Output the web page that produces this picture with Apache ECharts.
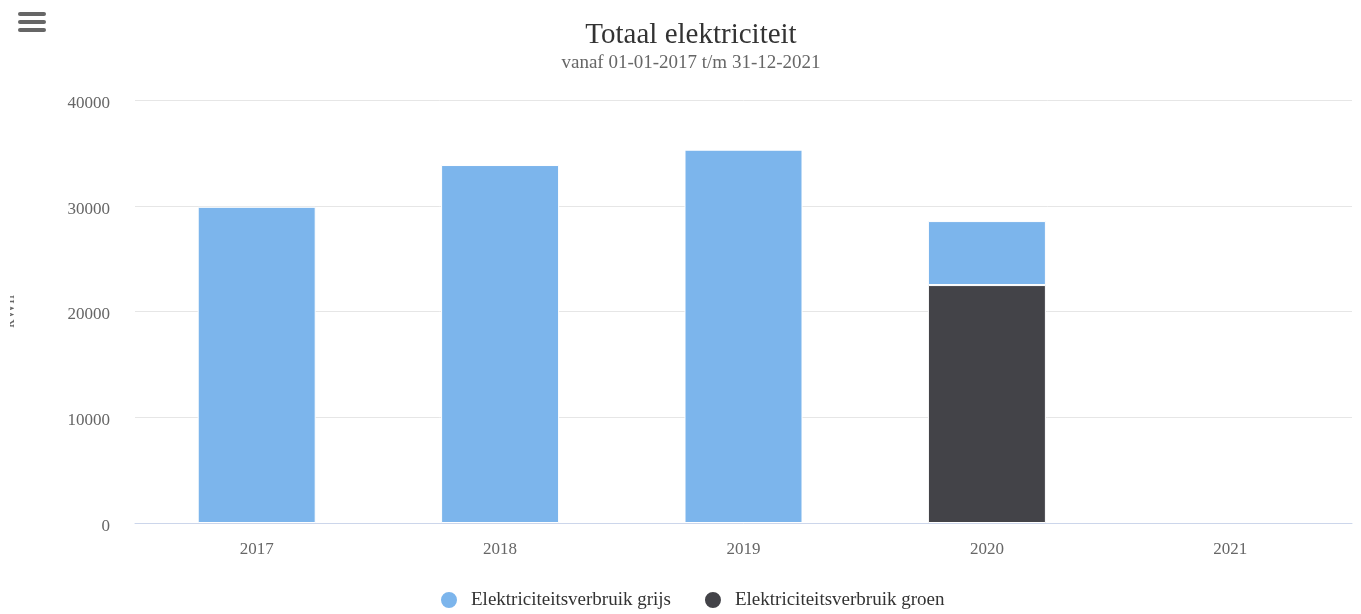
<!DOCTYPE html>
<html>
<head>
<meta charset="utf-8">
<script src="https://cdn.jsdelivr.net/npm/echarts@6/dist/echarts.min.js"></script>
<style>html,body{margin:0;padding:0;background:#fff}#c{width:1361px;height:614px}</style>
</head>
<body>
<div id="c"></div>
<script>
const categories = ['2017', '2018', '2019', '2020', '2021'];
const grijs = [29900, 33850, 35300, 6050, null];
const groen = [null, null, null, 22500, null];
const yTicks = [0, 10000, 20000, 30000, 40000];

const FONT = '"Liberation Serif", "Times New Roman", serif';
const chart = echarts.init(document.getElementById('c'));
chart.setOption({
  animation: false,
  textStyle: { fontFamily: FONT },
  title: {
    text: 'Totaal elektriciteit',
    subtext: 'vanaf 01-01-2017 t/m 31-12-2021',
    left: 686,
    textAlign: 'center',
    top: 16,
    itemGap: 4,
    textStyle: { fontFamily: FONT, fontSize: 29, fontWeight: 'normal', color: '#333' },
    subtextStyle: { fontFamily: FONT, fontSize: 19, color: '#666' }
  },
  legend: {
    data: ['Elektriciteitsverbruik grijs', 'Elektriciteitsverbruik groen'],
    top: 585,
    left: 434,
    icon: 'circle',
    itemWidth: 18,
    itemHeight: 18,
    itemGap: 32,
    textStyle: { fontFamily: FONT, fontSize: 19, color: '#333', padding: [0, 0, 0, 8] }
  },
  grid: { left: 135, right: 9, top: 100, bottom: 91, containLabel: false, outerBoundsMode: 'none' },
  xAxis: {
    type: 'category',
    data: categories,
    axisLine: { lineStyle: { color: '#ccd6eb', width: 1 } },
    axisTick: { show: false },
    axisLabel: { color: '#666', fontSize: 17, margin: 18, fontFamily: FONT }
  },
  yAxis: {
    type: 'value',
    min: yTicks[0],
    max: yTicks[yTicks.length - 1],
    interval: yTicks[1] - yTicks[0],
    name: 'kWh',
    nameLocation: 'middle',
    nameGap: 117,
    nameRotate: 90,
    nameTextStyle: { color: '#666', fontSize: 17, fontFamily: FONT },
    axisLine: { show: false },
    axisTick: { show: false },
    splitLine: { lineStyle: { color: '#e6e6e6', width: 1 } },
    axisLabel: {
      color: '#666', fontSize: 17, margin: 25, fontFamily: FONT,
      formatter: v => '{a|' + v + '}',
      rich: { a: { color: '#666', fontSize: 17, fontFamily: FONT, padding: [7, 0, 0, 0] } }
    }
  },
  series: [
    {
      name: 'Elektriciteitsverbruik groen',
      type: 'bar',
      stack: 'total',
      data: groen,
      barWidth: 118,
      itemStyle: { color: '#434348', borderColor: '#fff', borderWidth: 1 }
    },
    {
      name: 'Elektriciteitsverbruik grijs',
      type: 'bar',
      stack: 'total',
      data: grijs,
      barWidth: 118,
      itemStyle: { color: '#7cb5ec', borderColor: '#fff', borderWidth: 1 }
    }
  ],
  graphic: [
    { type: 'rect', left: 18, top: 12, shape: { width: 28, height: 4, r: 2 }, style: { fill: '#666' } },
    { type: 'rect', left: 18, top: 20, shape: { width: 28, height: 4, r: 2 }, style: { fill: '#666' } },
    { type: 'rect', left: 18, top: 28, shape: { width: 28, height: 4, r: 2 }, style: { fill: '#666' } },
    { type: 'rect', left: 0, top: 280, z: 1000, shape: { width: 10, height: 60 }, style: { fill: '#fff' } }
  ]
});
</script>
</body>
</html>
